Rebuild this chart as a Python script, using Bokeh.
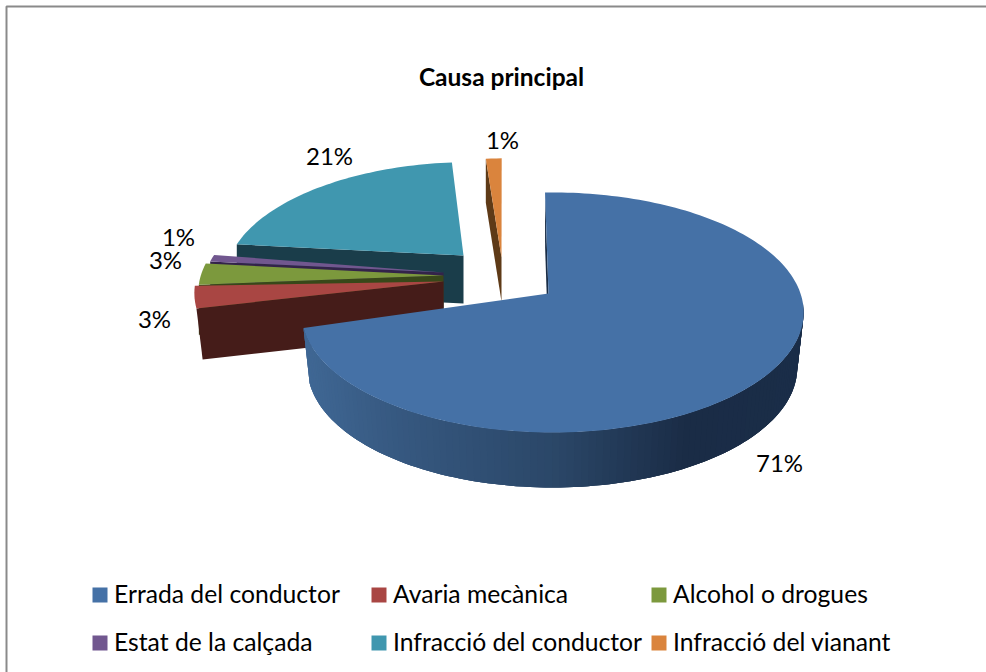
import math
from bokeh.plotting import figure
from bokeh.models import ColumnDataSource, Range1d
from bokeh.core.properties import value
from bokeh.embed import file_html
from bokeh.resources import INLINE

title = "Causa principal"
categories = ["Errada del conductor", "Avaria mecànica", "Alcohol o drogues",
              "Estat de la calçada", "Infracció del conductor", "Infracció del vianant"]
shares = [71, 3, 3, 1, 21, 1]
share_labels = ["71%", "3%", "3%", "1%", "21%", "1%"]

face_colors = ["#4571A6", "#A94643", "#7C993D", "#71578F", "#4097AF", "#DA843D"]
wall_colors = ["#1A2D46", "#451C19", "#384819", "#33234A", "#1A3D4A", "#5E3A17"]

# Drawing layout: where each exploded slice lands, one entry per category.
apex_x = [548, 443, 443, 443, 463, 501]
apex_y = [293, 281, 275, 272, 255, 257]
arc_x = [552, 440, 439, 441, 472, 510]
arc_y = [293, 274, 273, 271, 261, 277]
radius = [1.0, 0.98, 0.96, 0.95, 0.985, 1.18]
depth = [55, 51, 50, 50, 48, 44]
shrink = [0.975, 0.975, 1.0, 1.0, 1.0, 1.0]
label_x = [779, 154, 165, 178, 329, 502]
label_y = [462, 318, 259, 236, 155, 139]
START_DEG, A, B, K = -2.0, 248.0, 117.0, 0.158


def rim(angle, i):
    t = math.radians(angle)
    u, v = math.sin(t), -math.cos(t)
    s = 1 / (1 - K * v)
    return arc_x[i] + radius[i] * A * u * s, arc_y[i] + radius[i] * B * v * s


def drop(pt, i):
    return apex_x[i] + (pt[0] - apex_x[i]) * shrink[i], pt[1] + depth[i]


def steps(a0, a1, n=None):
    n = n or max(3, int(abs(a1 - a0) / 1.5))
    return [a0 + (a1 - a0) * k / n for k in range(n + 1)]


def mix(x):
    stops = [(300, (0x40, 0x68, 0x95)), (400, (0x36, 0x58, 0x80)), (557, (0x2B, 0x47, 0x68)),
             (690, (0x1A, 0x2C, 0x46)), (810, (0x1A, 0x2D, 0x48))]
    for (x0, c0), (x1, c1) in zip(stops, stops[1:]):
        if x <= x1:
            f = max(0, (x - x0) / (x1 - x0))
            return "#%02X%02X%02X" % tuple(round(a + (b - a) * f) for a, b in zip(c0, c1))
    return "#1A2D48"


edges = [START_DEG]
for sh in shares:
    edges.append(edges[-1] + sh * 3.6)

xs, ys, fills = [], [], []


def add(points, color):
    xs.append([q[0] for q in points])
    ys.append([q[1] for q in points])
    fills.append(color)


for i in [4, 5, 3, 2, 1, 0]:
    a0, a1 = edges[i], edges[i + 1]
    apex = (apex_x[i], apex_y[i])
    apex_low = (apex_x[i], apex_y[i] + depth[i])
    outer = rim(a0, i)
    add([outer, drop(outer, i), apex_low, apex], wall_colors[i])
    if i == 0:
        # curved side of the big slice: overlapping bands, so that no seams show
        ring = steps(95, a1, 110)
        for k, b0 in enumerate(ring[:-1]):
            b1 = ring[min(k + 3, len(ring) - 1)]
            arc = steps(b0, b1, 3)
            top = [rim(a, i) for a in arc]
            add(top + [drop(q, i) for q in reversed(top)], mix(top[0][0]))
    add([apex] + [rim(a, i) for a in steps(a0, a1)], face_colors[i])

p = figure(width=986, height=672, output_backend="svg", toolbar_location=None,
           x_range=Range1d(0, 986), y_range=Range1d(672, 0),
           min_border=0, outline_line_color=None,
           styles={"position": "absolute", "left": "0px", "top": "0px"})
p.axis.visible = False
p.grid.visible = False

p.line([6, 6, 986], [672, 6, 6], line_color="#8A8A8A", line_width=2)

p.patches("xs", "ys", source=ColumnDataSource(dict(xs=xs, ys=ys, c=fills)),
          fill_color="c", line_color=None)

p.text([501], [76], text=[title], text_font=value("Lato"), text_font_style="bold",
       text_font_size="24.5px", text_align="center", text_baseline="middle", text_color="#000000")

p.text(label_x, label_y, text=share_labels, text_font=value("Lato"), text_font_size="24px",
       text_align="center", text_baseline="middle", text_color="#000000")

col_x = [92, 371, 651]
row_y = [594.5, 642.5]
sq_x = [col_x[k % 3] + 7.5 for k in range(len(categories))]
sq_y = [row_y[k // 3] for k in range(len(categories))]
p.rect(sq_x, sq_y, width=15, height=15, fill_color=face_colors, line_color=None)
p.text([x + 14 for x in sq_x], [y - 2 for y in sq_y], text=categories, text_font=value("Lato"),
       text_font_size="24.7px", text_align="left", text_baseline="middle", text_color="#000000")

open("out.html", "w").write(file_html(p, INLINE))
